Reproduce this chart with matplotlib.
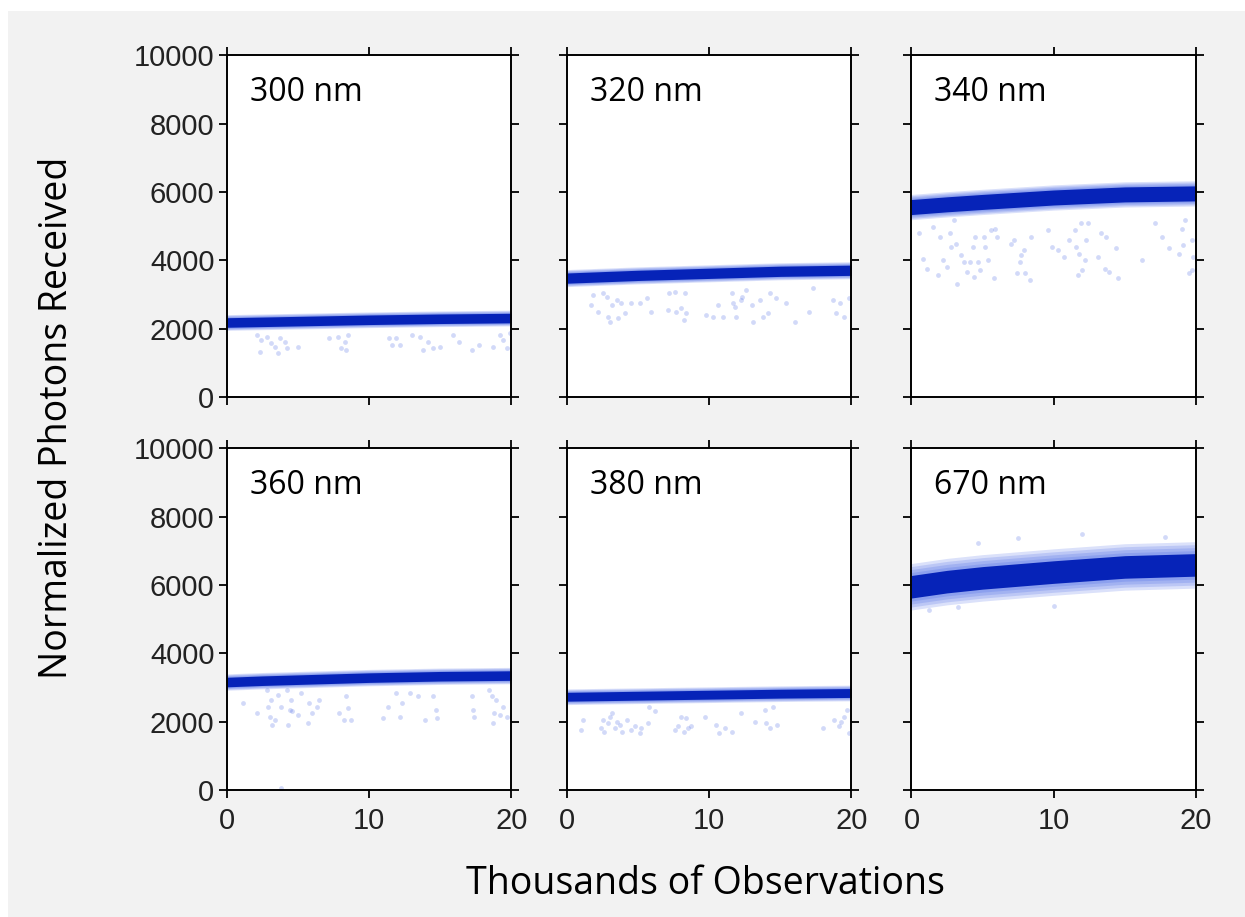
import numpy as np
import matplotlib.pyplot as plt
from matplotlib.patches import Rectangle

# band centre (photons) at these observation counts (thousands)
x_knots = [0, 2.5, 5, 10, 15, 20]

center_300 = [2180, 2200, 2220, 2260, 2290, 2310]
center_320 = [3480, 3520, 3560, 3620, 3680, 3710]
center_340 = [5560, 5640, 5710, 5840, 5930, 5960]
center_360 = [3160, 3200, 3230, 3290, 3330, 3350]
center_380 = [2730, 2745, 2760, 2790, 2820, 2840]
center_670 = [5950, 6100, 6210, 6380, 6530, 6590]

# half widths of the dense core and of the faint spread
core_hw = [140, 150, 220, 140, 130, 330]
spread_hw = [230, 250, 370, 240, 230, 680]

# stray low readings
out_x_300 = [2.1, 2.4, 2.3, 2.8, 3.1, 3.4, 3.6, 3.7, 4.1, 4.2, 5.0, 7.2, 7.8, 8.0, 8.3, 8.4, 8.5, 11.4,
             11.6, 11.9, 12.2, 13.0, 13.6, 13.8, 14.1, 14.5, 15.0, 15.9, 16.3, 17.2, 17.7, 18.7, 19.2,
             19.4, 19.7, 19.9]
out_y_300 = [1810, 1670, 1330, 1760, 1570, 1470, 1280, 1720, 1620, 1420, 1470, 1720, 1760, 1420, 1620,
             1370, 1810, 1720, 1520, 1720, 1520, 1810, 1760, 1370, 1620, 1420, 1470, 1810, 1620, 1370,
             1520, 1470, 1810, 1670, 1420, 1860]

out_x_320 = [1.8, 1.7, 2.2, 2.5, 2.8, 2.9, 3.0, 3.2, 3.5, 3.6, 3.8, 4.1, 4.5, 5.1, 5.6, 5.9, 7.2, 7.6,
             7.1, 7.7, 8.0, 8.2, 8.3, 8.4, 9.8, 10.3, 10.6, 11.0, 11.6, 11.7, 11.8, 11.9, 12.2, 12.3,
             12.6, 13.0, 13.1, 13.6, 13.8, 14.1, 14.3, 14.7, 15.4, 16.0, 17.0, 17.3, 18.7, 18.9, 19.2,
             19.5, 19.8]
out_y_320 = [2980, 2690, 2500, 3030, 2930, 2350, 2200, 2690, 2840, 2300, 2740, 2450, 2740, 2740, 2890,
             2500, 3030, 3080, 2540, 2500, 2590, 2250, 3030, 2450, 2400, 2350, 2690, 2350, 3030, 2740,
             2640, 2350, 2840, 2930, 3130, 2690, 2200, 2840, 2350, 2450, 3030, 2890, 2740, 2200, 2500,
             3180, 2840, 2450, 2740, 2350, 2890]

out_x_340 = [0.5, 0.8, 1.1, 1.5, 1.9, 2.0, 2.2, 2.5, 2.7, 2.8, 3.0, 3.1, 3.2, 3.5, 3.7, 3.9, 4.1, 4.3,
             4.4, 4.5, 4.7, 4.8, 5.1, 5.2, 5.4, 5.6, 5.8, 5.9, 6.0, 7.0, 7.2, 7.4, 7.6, 7.7, 7.9, 8.0,
             8.3, 8.4, 9.6, 9.9, 10.3, 10.7, 11.1, 11.5, 11.6, 11.7, 11.8, 11.9, 12.0, 12.2, 12.3, 12.4,
             13.1, 13.3, 13.6, 13.7, 13.9, 14.4, 14.5, 16.2, 17.1, 17.6, 18.1, 18.8, 19.0, 19.2, 19.1,
             19.5, 19.7, 19.8, 19.7]
out_y_340 = [4790, 4050, 3760, 4980, 3570, 4690, 4010, 3810, 4790, 4400, 5180, 4490, 3320, 4150, 3960,
             3670, 3960, 4400, 3520, 4690, 3960, 3710, 4690, 4400, 4010, 4880, 3470, 4930, 4690, 4490,
             4590, 3620, 3960, 4150, 4300, 3620, 3420, 4690, 4880, 4400, 4300, 4100, 4590, 4880, 4400,
             3570, 4200, 5080, 3710, 4010, 4590, 5080, 4100, 4790, 3760, 4690, 3670, 4350, 3470, 4010,
             5080, 4690, 4350, 4200, 4930, 5180, 4440, 3620, 3710, 4100, 4590]

out_x_360 = [1.1, 2.1, 2.8, 2.9, 3.0, 3.1, 3.2, 3.4, 3.6, 3.8, 4.2, 4.3, 4.4, 4.5, 4.6, 5.0, 5.2, 5.7,
             5.8, 6.0, 6.3, 6.5, 7.9, 8.2, 8.4, 8.5, 8.7, 11.0, 11.3, 11.9, 12.2, 12.3, 12.9, 13.4, 13.9,
             14.5, 14.7, 14.8, 17.2, 17.3, 17.4, 18.4, 18.6, 18.7, 18.8, 18.9, 19.2, 19.4, 19.7, 3.8]
out_y_360 = [2540, 2250, 2930, 2440, 2150, 2640, 1910, 2050, 2790, 2440, 2930, 1910, 2350, 2640, 2300,
             2200, 2840, 1960, 2540, 2250, 2440, 2640, 2250, 2050, 2740, 2400, 2050, 2100, 2440, 2840,
             2150, 2540, 2840, 2740, 2050, 2740, 2350, 2100, 2740, 2350, 2150, 2930, 2740, 1960, 2250,
             2640, 2200, 2440, 2150, 50]

out_x_380 = [1.1, 1.0, 2.4, 2.5, 2.6, 2.9, 3.0, 3.2, 3.4, 3.5, 3.7, 3.9, 4.2, 4.5, 4.8, 5.1, 5.2, 5.7,
             5.8, 6.2, 7.6, 7.8, 8.0, 8.2, 8.4, 8.5, 8.7, 9.7, 10.5, 10.7, 11.1, 11.6, 12.2, 13.2, 13.9,
             14.0, 14.3, 14.5, 14.8, 18.0, 18.8, 19.1, 19.3, 19.5, 19.8, 19.7]
out_y_380 = [2050, 1760, 1810, 2050, 1710, 1960, 2150, 2250, 1810, 2000, 1910, 1710, 2050, 1760, 1860,
             1660, 1810, 1960, 2440, 2300, 1760, 1860, 2150, 1710, 2100, 1810, 1860, 2150, 1910, 1660,
             1810, 1710, 2250, 2000, 2350, 1960, 1810, 2440, 1910, 1810, 2050, 1860, 2000, 2150, 1660,
             2350]

out_x_670 = [1.2, 3.3, 10.0, 4.7, 7.5, 12.0, 17.8]
out_y_670 = [5280, 5370, 5380, 7240, 7390, 7480, 7420]

labels = ['300 nm', '320 nm', '340 nm', '360 nm', '380 nm', '670 nm']
centers = [center_300, center_320, center_340, center_360, center_380, center_670]
outs_x = [out_x_300, out_x_320, out_x_340, out_x_360, out_x_380, out_x_670]
outs_y = [out_y_300, out_y_320, out_y_340, out_y_360, out_y_380, out_y_670]

core_color = '#0623b8'
dot_color = '#1f45e0'

fig = plt.figure(figsize=(12.45, 9.17), dpi=100)
fig.patches.append(Rectangle((8 / 1245, 0), 1, 906 / 917, transform=fig.transFigure,
                             facecolor='#f2f2f2', edgecolor='none', zorder=-1))

lefts = [0.1823, 0.4554, 0.7321]
bottoms = [0.5671, 0.1385]
w, h = 0.2285, 0.3725

for i in range(6):
    r, c = divmod(i, 3)
    ax = fig.add_axes([lefts[c], bottoms[r], w, h])
    xk = np.array(x_knots, dtype=float)
    ck = np.array(centers[i], dtype=float)

    # faint spread, stacked so it darkens toward the middle
    for f in [1.0, 0.75, 0.5, 0.25]:
        hw = core_hw[i] + (spread_hw[i] - core_hw[i]) * f
        ax.fill_between(xk, ck - hw, ck + hw, color=dot_color, alpha=0.16, lw=0)
    ax.fill_between(xk, ck - core_hw[i], ck + core_hw[i], color=core_color, lw=0)

    ax.scatter(outs_x[i], outs_y[i], s=12, color=dot_color, alpha=0.2, lw=0)

    ax.set_xlim(0, 20)
    ax.set_ylim(0, 10000)
    ax.set_xticks([0, 10, 20])
    ax.set_yticks([0, 2000, 4000, 6000, 8000, 10000])
    ax.tick_params(direction='out', length=6, width=1.3, top=True, right=True,
                   labelsize=21, labelcolor='#222222')
    ax.tick_params(axis='x', pad=6)
    ax.tick_params(axis='y', pad=3)
    for lab in ax.get_xticklabels() + ax.get_yticklabels():
        lab.set_fontfamily('Liberation Sans')
    if c != 0:
        ax.set_yticklabels([])
    if r != 1:
        ax.set_xticklabels([])
    for s in ax.spines.values():
        s.set_linewidth(1.4)
    ax.text(0.08, 0.89, labels[i], transform=ax.transAxes, fontsize=23,
            family='Open Sans', va='center', ha='left')

fig.text(705 / 1245, 1 - 884 / 917, 'Thousands of Observations', fontsize=27,
         family='Open Sans', ha='center', va='center')
fig.text(57 / 1245, 1 - 418 / 917, 'Normalized Photons Received', fontsize=27,
         family='Open Sans', ha='center', va='center', rotation=90)

fig.savefig('out.png', dpi=100, facecolor='white')
